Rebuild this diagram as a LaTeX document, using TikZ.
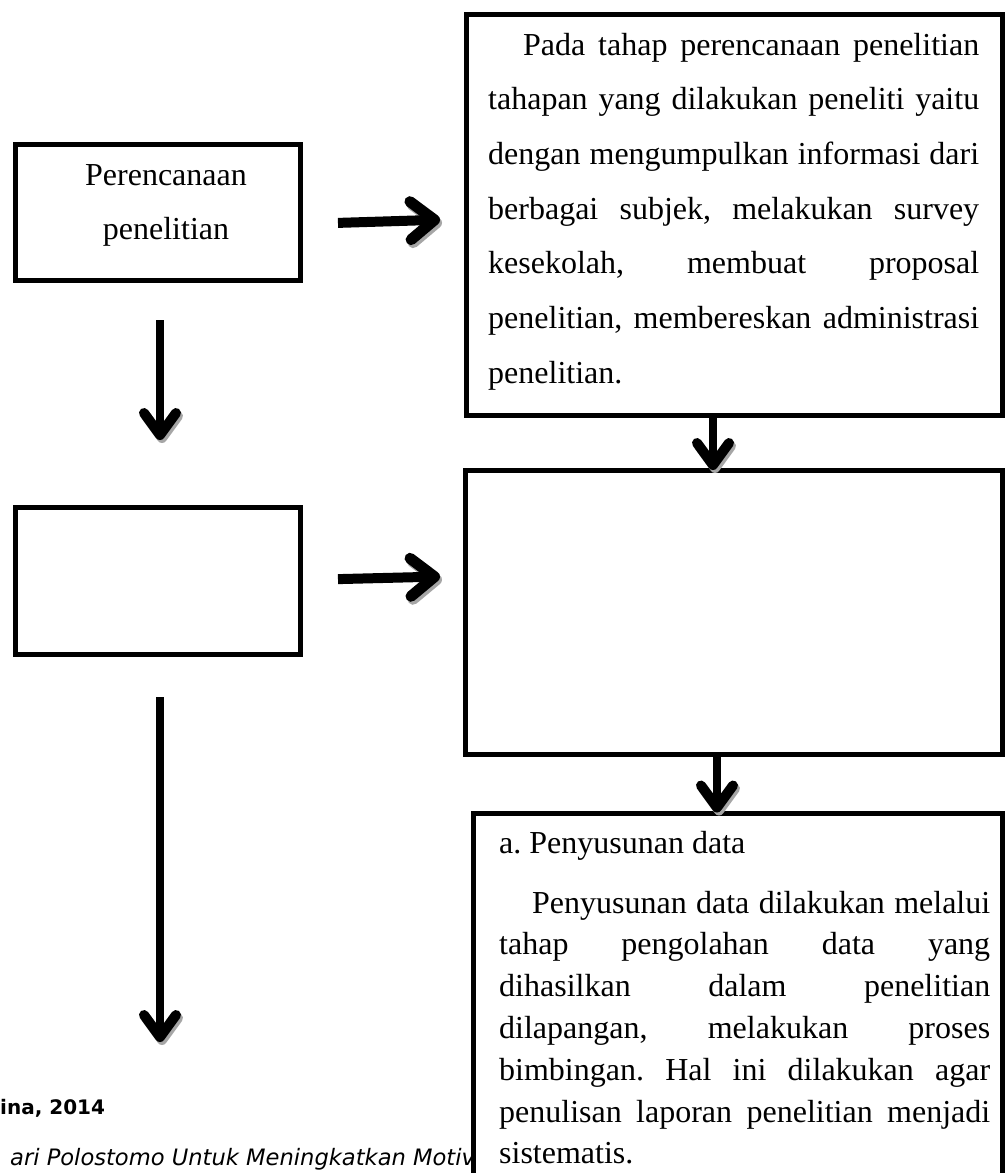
\documentclass[tikz,border=0pt]{standalone}
\usepackage{fontspec}
\setmainfont{Liberation Serif}
\newfontfamily\footfont{DejaVu Sans}
\usetikzlibrary{arrows.meta}
\frenchspacing
\tikzset{
  box/.style={draw=black, line width=5pt, fill=white, rectangle, inner sep=0pt},
  txt/.style={inner sep=0pt, anchor=base west, font=\fontsize{32}{54.7}\selectfont},
  shadowed/.style={preaction={draw=black!35, transform canvas={xshift=2pt,yshift=-3pt}}},
  harr/.style={line width=10pt, -{Straight Barb[round,length=24pt,width=38pt,line width=11pt]}, shadowed},
  varr/.style={line width=8pt, -{Straight Barb[round,length=22pt,width=32pt,line width=10pt]}, shadowed},
}
\begin{document}
\begin{tikzpicture}[x=1pt,y=-1pt]
\useasboundingbox (0,0) rectangle (1008,1173);
\clip (0,0) rectangle (1008,1173);
% footer text (partly hidden behind the lower right box)
\node[inner sep=0pt, anchor=base west, font=\footfont\bfseries\fontsize{20}{24}\selectfont] (f1) at (0,1114) {ina, 2014};
\node[inner sep=0pt, anchor=base west, font=\footfont\itshape\fontsize{22.6}{26}\selectfont] (f2) at (10,1165) {ari Polostomo Untuk Meningkatkan Motivasi};
% boxes
\node[box, minimum width=284.5pt, minimum height=136pt] (b1) at (157.75,212.5) {};
\node[box, minimum width=284.5pt, minimum height=147pt] (b2) at (157.75,581) {};
\node[box, minimum width=536pt, minimum height=400.5pt] (top) at (734,214.75) {};
\node[box, minimum width=537pt, minimum height=284pt] (mid) at (733.5,612.5) {};
\node[box, minimum width=529pt, minimum height=437pt] (bot) at (737.5,1031.5) {};
% texts
\node[txt, anchor=base] (t1) at (166,185) {\parbox[t]{260pt}{\centering Perencanaan\\penelitian}};
\node[txt] (ttop) at (488,55) {\parbox[t]{491pt}{%
\hspace*{35pt}\makebox[456pt][s]{Pada tahap perencanaan penelitian}\\
\makebox[491pt][s]{tahapan yang dilakukan peneliti yaitu}\\
\makebox[491pt][s]{dengan mengumpulkan informasi dari}\\
\makebox[491pt][s]{berbagai subjek, melakukan survey}\\
\makebox[491pt][s]{kesekolah, membuat proposal}\\
\makebox[491pt][s]{penelitian, membereskan administrasi}\\
penelitian.}};
\node[txt] (tbh) at (499,853) {a. Penyusunan data};
\node[txt, font=\fontsize{32}{41.8}\selectfont] (tbot) at (499,913) {\parbox[t]{491pt}{%
\hspace*{33pt}\makebox[458pt][s]{Penyusunan data dilakukan melalui}\\
\makebox[491pt][s]{tahap pengolahan data yang}\\
\makebox[491pt][s]{dihasilkan dalam penelitian}\\
\makebox[491pt][s]{dilapangan, melakukan proses}\\
\makebox[491pt][s]{bimbingan. Hal ini dilakukan agar}\\
\makebox[491pt][s]{penulisan laporan penelitian menjadi}\\
sistematis.}};
% connectors
\coordinate (v2end) at (160,1042);
\draw[harr, shorten <=35.5pt, shorten >=23.5pt] (b1.east |- 0,224) -- (top.west |- 0,219);
\draw[harr, shorten <=35.5pt, shorten >=22.5pt] (b2.east |- 0,580) -- (mid.west |- 0,576);
\draw[varr, shorten <=37pt, shorten >=65pt] (b1.south -| 160,0) -- (b2.north -| 160,0);
\draw[varr, shorten <=40pt] (b2.south -| 160,0) -- (v2end);
\draw[varr, shorten >=-2pt] (top.south -| 713,0) -- (mid.north -| 713,0);
\draw[varr, shorten >=-2pt] (mid.south -| 717,0) -- (bot.north -| 717,0);
\end{tikzpicture}
\end{document}
